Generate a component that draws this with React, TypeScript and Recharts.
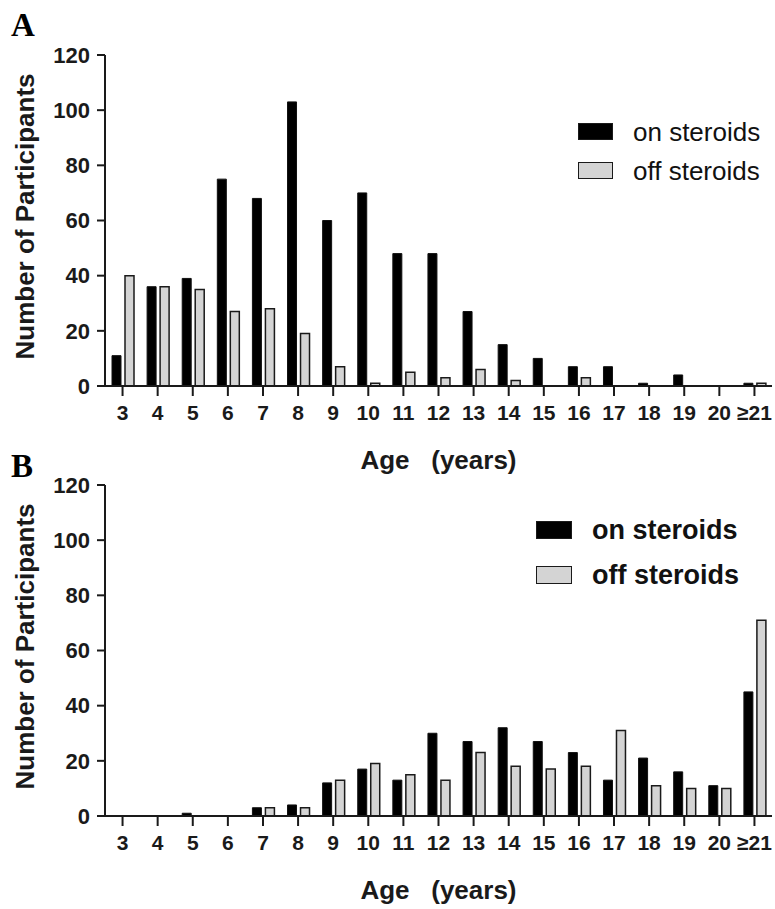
import { Bar, BarChart, Legend, XAxis, YAxis } from "recharts";

const AGES = ["3", "4", "5", "6", "7", "8", "9", "10", "11", "12", "13", "14", "15", "16", "17", "18", "19", "20", "≥21"];
const Y_TICKS = [0, 20, 40, 60, 80, 100, 120];

// panel A
const A_ON = [11, 36, 39, 75, 68, 103, 60, 70, 48, 48, 27, 15, 10, 7, 7, 1, 4, 0, 1];
const A_OFF = [40, 36, 35, 27, 28, 19, 7, 1, 5, 3, 6, 2, 0, 3, 0, 0, 0, 0, 1];

// panel B
const B_ON = [0, 0, 1, 0, 3, 4, 12, 17, 13, 30, 27, 32, 27, 23, 13, 21, 16, 11, 45];
const B_OFF = [0, 0, 0, 0, 3, 3, 13, 19, 15, 13, 23, 18, 17, 18, 31, 11, 10, 10, 71];

const FONT = "'Liberation Sans', Arial, sans-serif";
const INK = "#1a1a1a";
const GREY = "#d4d4d4";

function rows(on: number[], off: number[]) {
  return AGES.map((age, i) => ({ age, on: on[i], off: off[i] }));
}

function YTitle({ viewBox }: any) {
  const x = 34;
  const y = viewBox.y + viewBox.height / 2 - 4;
  return (
    <text
      x={x}
      y={y}
      transform={`rotate(-90, ${x}, ${y})`}
      textAnchor="middle"
      fontFamily={FONT}
      fontWeight="bold"
      fontSize={26}
      fill={INK}
    >
      Number of Participants
    </text>
  );
}

function XTitle({ viewBox }: any) {
  return (
    <text
      x={viewBox.x + viewBox.width / 2}
      y={viewBox.y + 83}
      textAnchor="middle"
      fontFamily={FONT}
      fontWeight="bold"
      fontSize={26}
      fill={INK}
      style={{ whiteSpace: "pre" }}
    >
      {"Age   (years)"}
    </text>
  );
}

function Key({ bold, size, box, pitch }: { bold: boolean; size: number; box: [number, number]; pitch: number }) {
  const items = [
    { name: "on steroids", fill: "#000" },
    { name: "off steroids", fill: GREY },
  ];
  return (
    <div style={{ fontFamily: FONT }}>
      {items.map((it) => (
        <div key={it.name} style={{ display: "flex", alignItems: "center", height: pitch }}>
          <div
            style={{
              width: box[0],
              height: box[1],
              background: it.fill,
              border: `1.5px solid ${INK}`,
              boxSizing: "border-box",
              marginRight: 20,
            }}
          />
          <span style={{ fontSize: size, fontWeight: bold ? "bold" : "normal", color: "#111", lineHeight: 1 }}>
            {it.name}
          </span>
        </div>
      ))}
    </div>
  );
}

function Panel({
  on,
  off,
  top,
  legend,
}: {
  on: number[];
  off: number[];
  top: number;
  legend: { left: number; top: number; bold: boolean; size: number; box: [number, number]; pitch: number };
}) {
  return (
    <div style={{ position: "absolute", left: 0, top }}>
      <BarChart
        width={775}
        height={480}
        data={rows(on, off)}
        margin={{ top: 55, right: 3, bottom: 0, left: 0 }}
        barSize={9}
        barGap={4}
      >
        <XAxis
          dataKey="age"
          height={94}
          interval={0}
          tickSize={10}
          tickMargin={9}
          axisLine={{ stroke: INK, strokeWidth: 2 }}
          tickLine={{ stroke: INK, strokeWidth: 2 }}
          tick={{ fill: INK, fontSize: 21, fontWeight: "bold", fontFamily: FONT }}
          label={<XTitle />}
        />
        <YAxis
          width={105}
          domain={[0, 120]}
          ticks={Y_TICKS}
          interval={0}
          tickSize={8}
          tickMargin={7}
          axisLine={{ stroke: INK, strokeWidth: 2 }}
          tickLine={{ stroke: INK, strokeWidth: 2 }}
          tick={{ fill: INK, fontSize: 22, fontWeight: "bold", fontFamily: FONT }}
          label={<YTitle />}
        />
        <Legend
          layout="horizontal"
          verticalAlign="middle"
          align="center"
          wrapperStyle={{ left: legend.left, top: legend.top - (legend.pitch - legend.box[1]) / 2, width: "auto" }}
          content={() => <Key bold={legend.bold} size={legend.size} box={legend.box} pitch={legend.pitch} />}
        />
        <Bar dataKey="on" name="on steroids" fill="#000" stroke="#111" strokeWidth={1} isAnimationActive={false} />
        <Bar dataKey="off" name="off steroids" fill={GREY} stroke={INK} strokeWidth={1.5} isAnimationActive={false} />
      </BarChart>
    </div>
  );
}

export default function App() {
  return (
    <div style={{ position: "absolute", left: 0, top: 0, width: 775, height: 909, background: "#fff" }}>
      <Panel
        on={A_ON}
        off={A_OFF}
        top={0}
        legend={{ left: 578, top: 123, bold: false, size: 26, box: [35, 17], pitch: 39 }}
      />
      <Panel
        on={B_ON}
        off={B_OFF}
        top={430}
        legend={{ left: 536, top: 91, bold: true, size: 27, box: [36, 18], pitch: 45 }}
      />
      <svg width={775} height={909} style={{ position: "absolute", left: 0, top: 0, pointerEvents: "none" }}>
        <text x={11} y={36} fontFamily="'Liberation Serif', 'Times New Roman', serif" fontWeight="bold" fontSize={33} fill="#000">
          A
        </text>
        <text x={11} y={477} fontFamily="'Liberation Serif', 'Times New Roman', serif" fontWeight="bold" fontSize={33} fill="#000">
          B
        </text>
      </svg>
    </div>
  );
}
